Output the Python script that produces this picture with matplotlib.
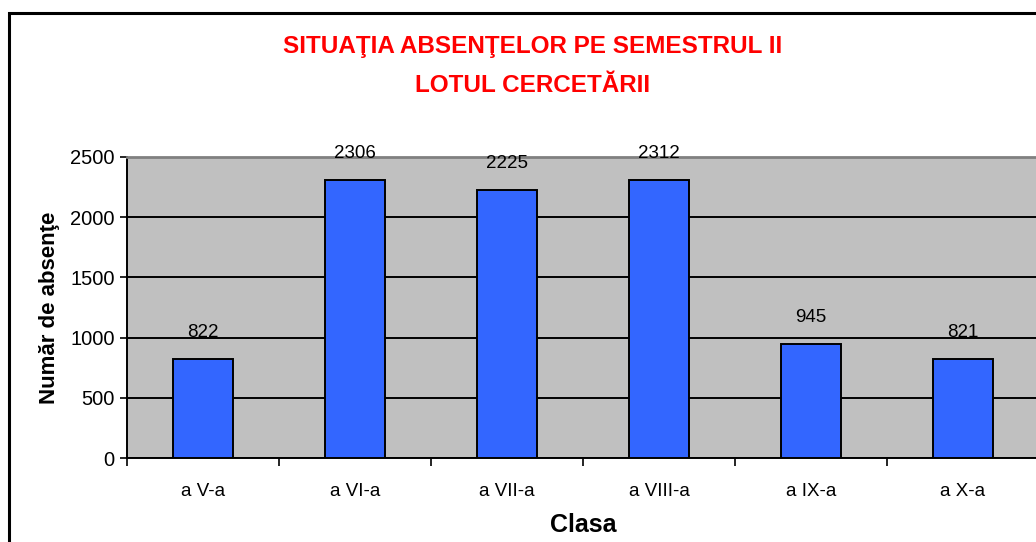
import numpy as np
import matplotlib.pyplot as plt
from matplotlib.patches import Rectangle

# data
classes = ['a V-a', 'a VI-a', 'a VII-a', 'a VIII-a', 'a IX-a', 'a X-a']
absences = [822, 2306, 2225, 2312, 945, 821]
y_ticks = [0, 500, 1000, 1500, 2000, 2500]

plt.rcParams['font.family'] = ['Liberation Sans', 'DejaVu Sans']

fig = plt.figure(figsize=(10.36, 5.42), dpi=100)
W, H = 1036, 542

# outer chart border (cropped at right/bottom)
fig.patches.append(Rectangle((9 / W, -0.2), 1.5, 1.2 - 13 / H,
                             transform=fig.transFigure, fill=False,
                             edgecolor='black', linewidth=2.2, clip_on=False))

ax = fig.add_axes([127 / W, 1 - 458 / H, 912 / W, 301 / H])
ax.set_facecolor('#C0C0C0')

x = np.arange(len(classes))
ax.set_axisbelow(True)
ax.yaxis.grid(True, color='black', linewidth=1.4)
ax.bar(x, absences, width=0.4, color='#3366FF', edgecolor='black', linewidth=1.4, zorder=3)

for xi, v in zip(x, absences):
    ax.annotate(str(v), (xi, v), xytext=(0, 19), textcoords='offset points',
                ha='center', va='center', fontsize=13.5)

ax.set_xlim(-0.5, len(classes) - 0.5)
ax.set_ylim(0, 2500)
ax.set_yticks(y_ticks)
ax.tick_params(axis='y', labelsize=14.5, length=5, width=1.2, direction='out', pad=4)

# ticks on category boundaries, labels centered
ax.set_xticks(np.arange(len(classes) + 1) - 0.5)
ax.set_xticklabels([])
ax.set_xticks(x, minor=True)
ax.set_xticklabels(classes, minor=True, fontsize=13.5)
ax.tick_params(axis='x', which='major', length=6, width=1.2, direction='out')
ax.tick_params(axis='x', which='minor', length=0, pad=18)

ax.spines['left'].set_color('black')
ax.spines['left'].set_linewidth(1.4)
ax.spines['bottom'].set_color('black')
ax.spines['bottom'].set_linewidth(1.4)
ax.spines['top'].set_color('#808080')
ax.spines['top'].set_linewidth(2)
ax.spines['right'].set_color('#808080')
ax.spines['right'].set_linewidth(2)

ax.set_ylabel('Număr de absenţe', fontsize=16, fontweight='bold', labelpad=7)
ax.set_xlabel('Clasa', fontsize=18, fontweight='bold', labelpad=9)

fig.text(533 / W, 1 - 47 / H, 'SITUAŢIA ABSENŢELOR PE SEMESTRUL II', color='red',
         fontsize=17.5, fontweight='bold', ha='center', va='center')
fig.text(533 / W, 1 - 85 / H, 'LOTUL CERCETĂRII', color='red',
         fontsize=17.5, fontweight='bold', ha='center', va='center')

fig.savefig('out.png', dpi=100)
